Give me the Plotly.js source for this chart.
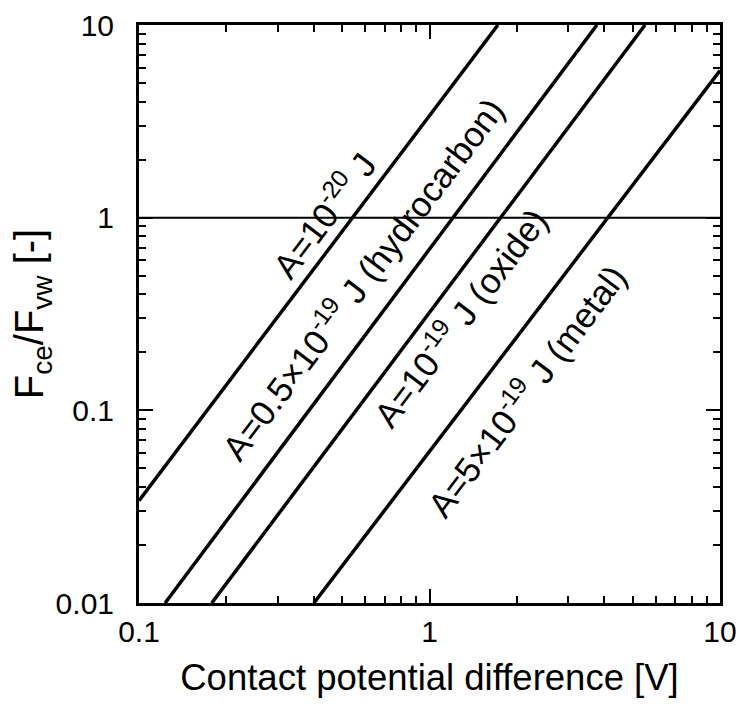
<!DOCTYPE html>
<html>
<head>
<meta charset="utf-8">
<script src="https://cdn.plot.ly/plotly-3.0.1.min.js"></script>
<style>html,body{margin:0;padding:0;background:#fff;}#chart{width:740px;height:714px;}</style>
</head>
<body>
<div id="chart"></div>
<script>
// Lines (end points of each straight line on log-log axes)
const line1X = [0.1, 1.72];   const line1Y = [0.034, 10];
const line2X = [0.123, 3.77]; const line2Y = [0.01, 10];
const line3X = [0.178, 5.52]; const line3Y = [0.01, 10];
const line4X = [0.40, 10];    const line4Y = [0.01, 5.8];
const unityX = [0.1, 10];     const unityY = [1, 1];

const lineLabels = [
  "A=10<sup>-20</sup> J",
  "A=0.5×10<sup>-19</sup> J (hydrocarbon)",
  "A=10<sup>-19</sup> J (oxide)",
  "A=5×10<sup>-19</sup> J (metal)"
];
const xTickVals = [0.1, 1, 10];
const xTickText = ["0.1", "1", "10"];
const yTickVals = [0.01, 0.1, 1, 10];
const yTickText = ["0.01", "0.1", "1", "10"];
const minorVals = [0.002,0.003,0.004,0.005,0.006,0.007,0.008,0.009,
  0.02,0.03,0.04,0.05,0.06,0.07,0.08,0.09,
  0.2,0.3,0.4,0.5,0.6,0.7,0.8,0.9,2,3,4,5,6,7,8,9];

const FONT = "Liberation Sans, Arial, Helvetica, sans-serif";
const lineStyle = {color: "#000", width: 3.5};

const traces = [
  {x: line1X, y: line1Y, mode: "lines", line: lineStyle, showlegend: false},
  {x: line2X, y: line2Y, mode: "lines", line: lineStyle, showlegend: false},
  {x: line3X, y: line3Y, mode: "lines", line: lineStyle, showlegend: false},
  {x: line4X, y: line4Y, mode: "lines", line: lineStyle, showlegend: false},
  {x: unityX, y: unityY, mode: "lines", line: {color: "#000", width: 2}, showlegend: false}
];

const labelPos = [[0.315, 0.672], [0.382, 0.563], [0.550, 0.495], [0.664, 0.369]];
const annotations = lineLabels.map((t, i) => ({
  text: t, xref: "paper", yref: "paper", x: labelPos[i][0], y: labelPos[i][1],
  xanchor: "center", yanchor: "middle", showarrow: false, textangle: -53,
  font: {family: FONT, size: 35, color: "#000"}
}));

function axisCommon() {
  return {
    type: "log", showgrid: false, zeroline: false,
    showline: true, linecolor: "#000", linewidth: 3, mirror: "allticks",
    ticks: "inside", ticklen: 14, tickwidth: 2, tickcolor: "#000",
    tickfont: {family: FONT, size: 30, color: "#000"},
    minor: {tickvals: minorVals, ticks: "inside", ticklen: 7, tickwidth: 2, tickcolor: "#000", showgrid: false}
  };
}

const layout = {
  width: 740, height: 714,
  margin: {l: 139, r: 20, t: 25, b: 111},
  paper_bgcolor: "#fff", plot_bgcolor: "#fff",
  xaxis: Object.assign(axisCommon(), {
    range: [-1, 1], tickvals: xTickVals, ticktext: xTickText, ticklabelstandoff: 0,
    title: {text: "Contact potential difference [V]", font: {family: FONT, size: 36.5, color: "#000"}, standoff: 18}
  }),
  yaxis: Object.assign(axisCommon(), {
    range: [-2, 1], tickvals: yTickVals, ticktext: yTickText, ticklabelstandoff: 16,
    title: {text: "F<sub>ce</sub>/F<sub>vw</sub> [-]", font: {family: FONT, size: 40, color: "#000"}, standoff: 0}
  }),
  annotations: annotations
};

Plotly.newPlot("chart", traces, layout, {displayModeBar: false, staticPlot: true});
</script>
</body>
</html>
